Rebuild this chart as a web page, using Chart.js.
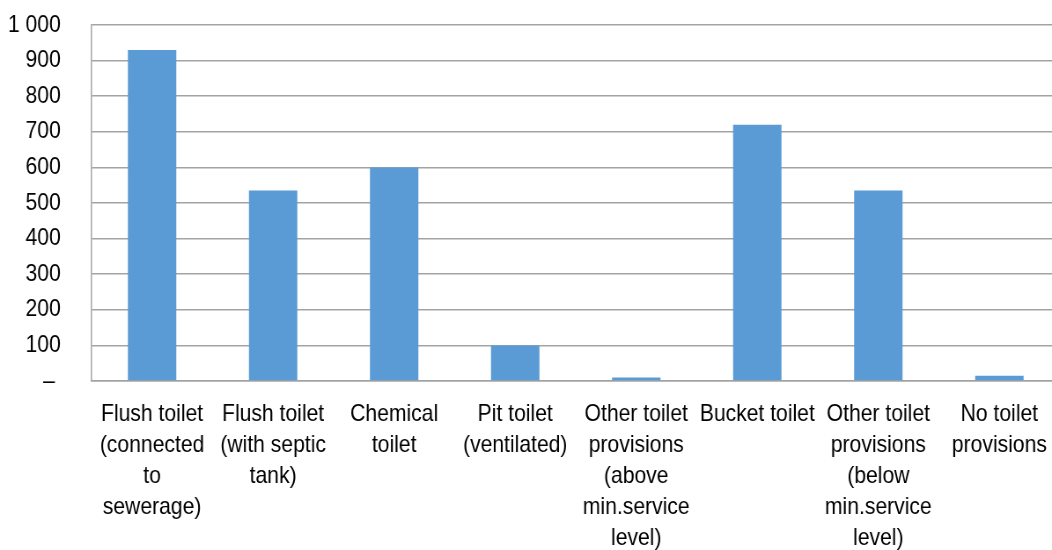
<!DOCTYPE html>
<html>
<head>
<meta charset="utf-8">
<script src="https://cdn.jsdelivr.net/npm/chart.js@4/dist/chart.umd.min.js"></script>
<style>
  html, body { margin: 0; padding: 0; background: #fff; overflow: hidden; }
  #wrap { width: 1052px; height: 550px; overflow: hidden; }
  /* the type in this chart is tall and narrow, so the canvas is drawn wider and squeezed;
     the plot runs a little past the right edge of the frame */
  #myCanvas { transform: scaleX(0.8803); transform-origin: 0 0; }
</style>
</head>
<body>
<div id="wrap"><canvas id="myCanvas" width="1204" height="550"></canvas></div>
<script>
const categories = [
  ["Flush toilet", "(connected", "to", "sewerage)"],
  ["Flush toilet", "(with septic", "tank)"],
  ["Chemical", "toilet"],
  ["Pit toilet", "(ventilated)"],
  ["Other toilet", "provisions", "(above", "min.service", "level)"],
  ["Bucket toilet"],
  ["Other toilet", "provisions", "(below", "min.service", "level)"],
  ["No toilet", "provisions"]
];
const households = [930, 535, 600, 100, 10, 720, 535, 15];
const yTicks = [0, 100, 200, 300, 400, 500, 600, 700, 800, 900, 1000];

const fontFamily = "'Liberation Sans', Arial, sans-serif";
const gridGray = "#a3a3a3";

// thousands with a space, zero shown as a dash
const formatTick = (v) => {
  if (v === 0) return "\u2013 ";
  return v.toLocaleString("en-US").replace(/,/g, " ");
};

new Chart(document.getElementById("myCanvas"), {
  type: "bar",
  data: {
    labels: categories,
    datasets: [
      {
        data: households,
        backgroundColor: "#5b9bd5",
        borderWidth: 0,
        barPercentage: 0.4,
        categoryPercentage: 1,
      },
    ],
  },
  options: {
    responsive: false,
    animation: false,
    layout: { padding: { top: 25, right: 0, left: 0, bottom: 0 } },
    plugins: {
      legend: { display: false },
      tooltip: { enabled: false },
    },
    scales: {
      x: {
        grid: { display: false, drawTicks: false },
        border: { display: true, color: gridGray, width: 1.5 },
        ticks: {
          autoSkip: false,
          maxRotation: 0,
          minRotation: 0,
          padding: 18,
          color: "#000",
          font: { family: fontFamily, size: 24, lineHeight: 1.29 },
        },
        afterFit: (axis) => {
          axis.height = 169;
          axis.paddingLeft = 0;
          axis.paddingRight = 0;
        },
      },
      y: {
        min: 0,
        max: 1000,
        afterBuildTicks: (axis) => {
          axis.ticks = yTicks.map((v) => ({ value: v }));
        },
        grid: { color: gridGray, lineWidth: 1.5, drawTicks: false },
        border: { display: true, color: gridGray, width: 1.5 },
        ticks: {
          padding: 35,
          color: "#000",
          font: { family: fontFamily, size: 24 },
          callback: formatTick,
        },
        afterFit: (axis) => {
          axis.width = 104;
          axis.paddingTop = 0;
          axis.paddingBottom = 0;
        },
      },
    },
  },
});
</script>
</body>
</html>
